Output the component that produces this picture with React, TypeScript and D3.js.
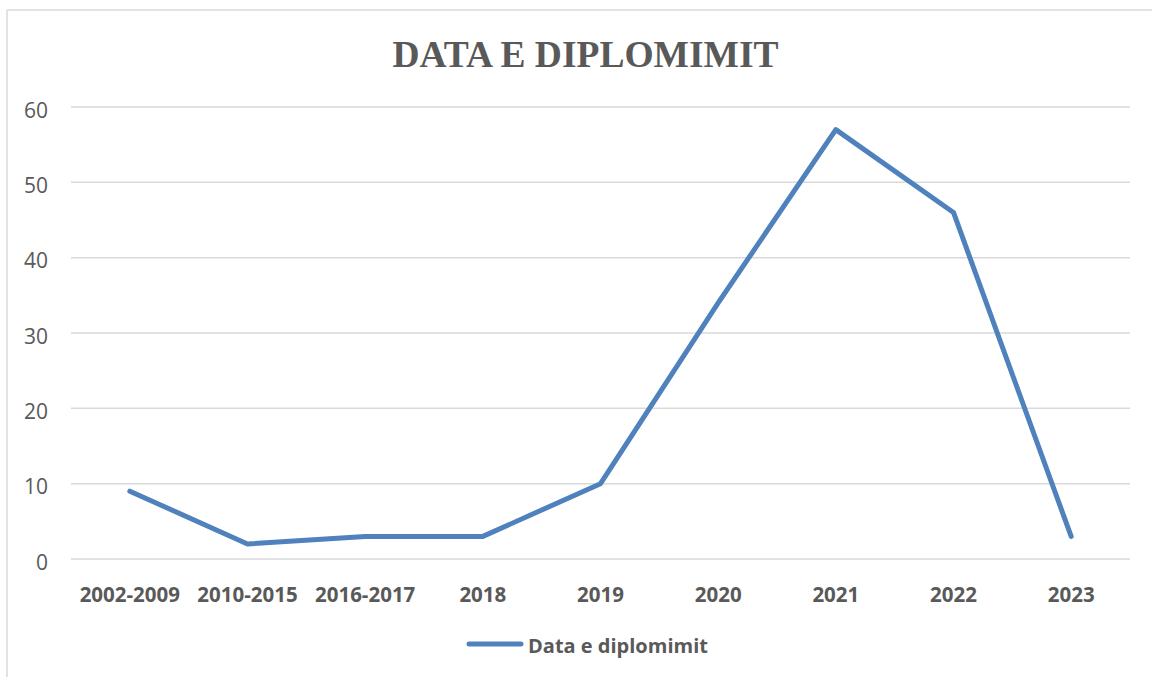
import React from "react";
import * as d3 from "d3";

const categories = ["2002-2009", "2010-2015", "2016-2017", "2018", "2019", "2020", "2021", "2022", "2023"];
const values = [9, 2, 3, 3, 10, 34, 57, 46, 3];
const yTicks = [0, 10, 20, 30, 40, 50, 60];
const title = "DATA E DIPLOMIMIT";
const seriesName = "Data e diplomimit";

const W = 1152;
const H = 677;
const plot = { left: 71, right: 1130, top: 107, bottom: 559 };
const lineColor = "#4f81bd";
const gridColor = "#d9d9d9";
const textColor = "#595959";

export default function App() {
  const x = d3.scaleBand<string>().domain(categories).range([plot.left, plot.right]);
  const y = d3.scaleLinear().domain([0, 60]).range([plot.bottom, plot.top]);
  const line = d3
    .line<number>()
    .x((_, i) => (x(categories[i]) as number) + x.bandwidth() / 2)
    .y((d) => y(d));

  return (
    <svg
      width={W}
      height={H}
      style={{ position: "absolute", left: 0, top: 0, background: "#fff" }}
      fontFamily="'Open Sans', sans-serif"
    >
      <rect x={0} y={0} width={W} height={H} fill="#fff" />
      <line x1={7} x2={W} y1={10} y2={10} stroke={gridColor} strokeWidth={1.5} />
      <line x1={7} x2={7} y1={10} y2={H} stroke={gridColor} strokeWidth={1.5} />
      <text
        x={585.5}
        y={67}
        textAnchor="middle"
        fontFamily="'Liberation Serif', 'Times New Roman', serif"
        fontWeight="bold"
        fontSize={37.5}
        fill={textColor}
      >
        {title}
      </text>
      {yTicks.map((t) => (
        <g key={t}>
          <line x1={plot.left} x2={plot.right} y1={y(t)} y2={y(t)} stroke={gridColor} strokeWidth={1.5} />
          <text x={48} y={y(t) + 5} textAnchor="end" dominantBaseline="middle" fontSize={21} fill={textColor}>
            {t}
          </text>
        </g>
      ))}
      {categories.map((c) => (
        <text
          key={c}
          x={(x(c) as number) + x.bandwidth() / 2}
          y={597}
          textAnchor="middle"
          dominantBaseline="middle"
          fontSize={20.5}
          fontWeight="bold"
          fill={textColor}
        >
          {c}
        </text>
      ))}
      <path
        d={line(values) || ""}
        fill="none"
        stroke={lineColor}
        strokeWidth={5}
        strokeLinecap="round"
        strokeLinejoin="round"
      />
      <line x1={469} x2={521} y1={644} y2={644} stroke={lineColor} strokeWidth={5} strokeLinecap="round" />
      <text x={528} y={648} dominantBaseline="middle" fontSize={20} fontWeight="bold" fill={textColor}>
        {seriesName}
      </text>
    </svg>
  );
}
